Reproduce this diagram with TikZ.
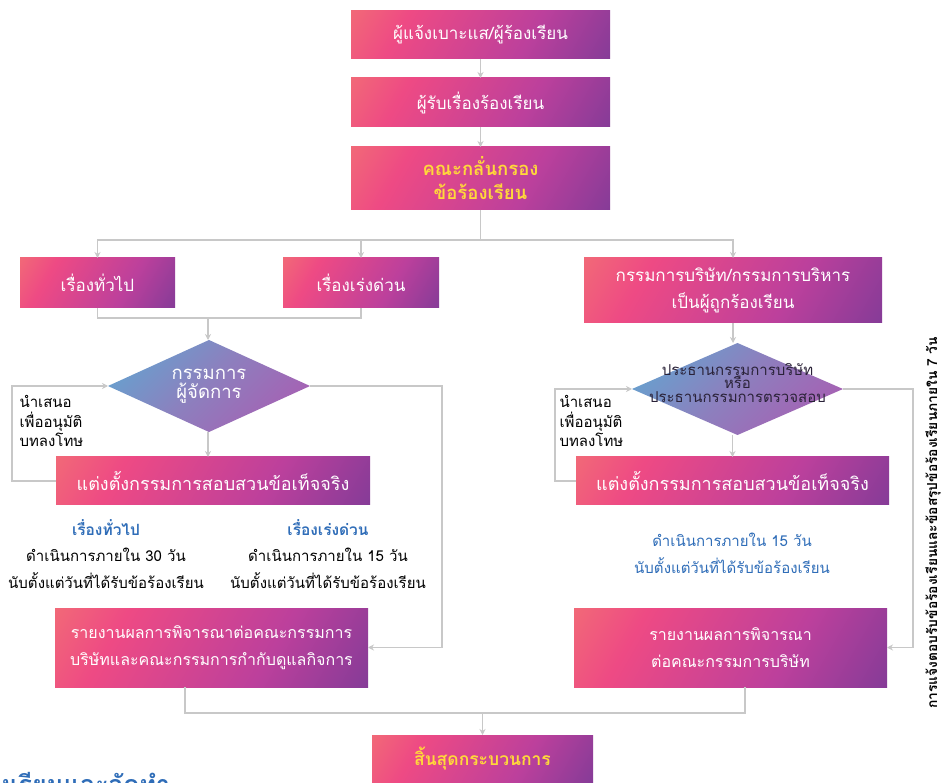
\documentclass[tikz,border=0pt]{standalone}
\usepackage{fontspec}
\setmainfont{Loma}[Script=Thai]
\usetikzlibrary{shapes.geometric,arrows.meta}
\definecolor{bxA}{HTML}{F58A6A}
\definecolor{bxB}{HTML}{EE4A84}
\definecolor{bxC}{HTML}{BC409C}
\definecolor{bxD}{HTML}{5F3894}
\definecolor{dA}{HTML}{46BEDD}
\definecolor{dB}{HTML}{8C80BE}
\definecolor{dC}{HTML}{BC46AA}
\definecolor{lineg}{HTML}{C8C8C8}
\definecolor{blueT}{HTML}{2F6DB8}
\definecolor{yellowT}{HTML}{FFD83A}
\definecolor{darkT}{HTML}{2A2238}
\pgfdeclarehorizontalshading{boxshade}{100bp}{color(0bp)=(bxA); color(30bp)=(bxB); color(62bp)=(bxC); color(100bp)=(bxD)}
\pgfdeclarehorizontalshading{diashade}{100bp}{color(0bp)=(dA); color(48bp)=(dB); color(100bp)=(dC)}
\tikzset{
  box/.style={shade, shading=boxshade, shading angle=-30, inner sep=0pt, outer sep=0pt,
    text=white, align=center, font=\fontsize{17}{27}\selectfont},
  dia/.style={diamond, shade, shading=diashade, shading angle=-45, inner sep=0pt, outer sep=0pt},
  conn/.style={draw=lineg, line width=1.1pt},
  arr/.style={conn, -{Stealth[length=6pt,width=6pt]}},
  bluehead/.style={text=blueT, font=\bfseries\fontsize{15.5}{17}\selectfont},
  note/.style={align=center, font=\fontsize{15}{27}\selectfont},
  sidelab/.style={align=left, anchor=north west, font=\fontsize{15}{19.5}\selectfont},
}
\begin{document}
\begin{tikzpicture}[x=1pt,y=-1pt]
\useasboundingbox (0,0) rectangle (946,783);
\fill[white] (0,0) rectangle (946,783);

% boxes
\node[box, minimum width=259pt, minimum height=48pt] (n1) at (480.5,35) {ผู้แจ้งเบาะแส/ผู้ร้องเรียน};
\node[box, minimum width=259pt, minimum height=49pt] (n2) at (480.5,102.5) {ผู้รับเรื่องร้องเรียน};
\node[box, minimum width=259pt, minimum height=63pt, text=yellowT, font=\bfseries\fontsize{18.5}{24}\selectfont] (n3) at (480.5,178.5) {คณะกลั่นกรอง\\ข้อร้องเรียน};
\node[box, minimum width=155pt, minimum height=50pt] (g1) at (97.5,283) {เรื่องทั่วไป};
\node[box, minimum width=156pt, minimum height=50pt] (g2) at (361,283) {เรื่องเร่งด่วน};
\node[box, minimum width=298pt, minimum height=65pt] (g3) at (733,290.5) {กรรมการบริษัท/กรรมการบริหาร\\เป็นผู้ถูกร้องเรียน};

\node[dia, minimum width=202pt, minimum height=92pt,
  label={[text=white, align=center, font=\fontsize{18.5}{19}\selectfont]center:กรรมการ\\ผู้จัดการ}] (d1) at (209,386) {};
\node[dia, minimum width=211pt, minimum height=92pt,
  label={[text=darkT, align=center, yshift=6pt, font=\fontsize{15}{13.5}\selectfont]center:ประธานกรรมการบริษัท\\หรือ\\ประธานกรรมการตรวจสอบ}] (d2) at (737.5,389) {};

\node[box, minimum width=314pt, minimum height=48pt, font=\fontsize{18}{27}\selectfont] (s1) at (213,481) {แต่งตั้งกรรมการสอบสวนข้อเท็จจริง};
\node[box, minimum width=313pt, minimum height=48pt, font=\fontsize{18}{27}\selectfont] (s2) at (732.5,481) {แต่งตั้งกรรมการสอบสวนข้อเท็จจริง};
\node[box, minimum width=313pt, minimum height=79pt, font=\fontsize{16}{27}\selectfont] (r1) at (211.5,647.5) {รายงานผลการพิจารณาต่อคณะกรรมการ\\บริษัทและคณะกรรมการกำกับดูแลกิจการ};
\node[box, minimum width=313pt, minimum height=79pt, font=\fontsize{16}{27}\selectfont] (r2) at (730.5,647.5) {รายงานผลการพิจารณา\\ต่อคณะกรรมการบริษัท};
\node[box, minimum width=221pt, minimum height=48pt, text=yellowT, font=\bfseries\fontsize{17.5}{19}\selectfont] (e) at (482.5,759) {สิ้นสุดกระบวนการ};

% texts
\node[bluehead] (t1) at (106,528) {เรื่องทั่วไป};
\node[note] (t2) at (106,568.5) {ดำเนินการภายใน 30 วัน\\นับตั้งแต่วันที่ได้รับข้อร้องเรียน};
\node[bluehead] (t3) at (328,528) {เรื่องเร่งด่วน};
\node[note] (t4) at (328,568.5) {ดำเนินการภายใน 15 วัน\\นับตั้งแต่วันที่ได้รับข้อร้องเรียน};
\node[note, text=blueT] (t5) at (732,553.5) {ดำเนินการภายใน 15 วัน\\นับตั้งแต่วันที่ได้รับข้อร้องเรียน};
\node[sidelab] (lab1) at (16,392) {นำเสนอ\\เพื่ออนุมัติ\\บทลงโทษ};
\node[sidelab] (lab2) at (556,392) {นำเสนอ\\เพื่ออนุมัติ\\บทลงโทษ};
\node[rotate=90, font=\bfseries\fontsize{13.8}{15}\selectfont] (vt) at (933,523) {การแจ้งตอบรับข้อร้องเรียนและข้อสรุปข้อร้องเรียนภายใน 7 วัน};
\begin{scope}
\clip (0,0) rectangle (946,783);
\node[anchor=base west, text=blueT, font=\bfseries\fontsize{25}{27}\selectfont] (cut) at (-34,793) {ร้องเรียนและจัดทำ};
\end{scope}

% coordinates
\coordinate (split) at (480.5,240);
\coordinate (merge) at (208,318);
\coordinate (loopL) at (12,386);
\coordinate (loopR) at (442,386);
\coordinate (loopL2) at (555,389);
\coordinate (loopR2) at (913,389);
\coordinate (j1) at (185,713);
\coordinate (j2) at (745,713);

% connectors
\draw[arr] (n1) -- (n2);
\draw[arr] (n2) -- (n3);
\draw[conn] (n3.south) -- (split);
\draw[arr] (split) -| (g1.north);
\draw[arr] (split) -| (g3.north);
\draw[arr] (g2.north |- split) -- (g2.north);
\draw[conn] (g1.south) |- (g2.south |- merge) -- (g2.south);
\draw[arr] (merge) -- (merge |- d1.north);
\draw[arr] (merge |- d1.south) -- (merge |- s1.north);
\draw[arr] (s1.west) -| (loopL) -- (d1.west);
\draw[arr] (d1.east) -- (loopR) |- (r1.east);
\draw[arr] (g3.south) -- (g3.south |- d2.north);
\draw[arr] (s2.north |- d2.south) -- (s2.north);
\draw[arr] (s2.west) -| (loopL2) -- (d2.west);
\draw[arr] (d2.east) -- (loopR2) |- (r2.east);
\draw[conn] (r1.south -| j1) -- (j1) -- (j2) -- (r2.south -| j2);
\draw[arr] (e.north |- j1) -- (e.north);
\end{tikzpicture}
\end{document}
